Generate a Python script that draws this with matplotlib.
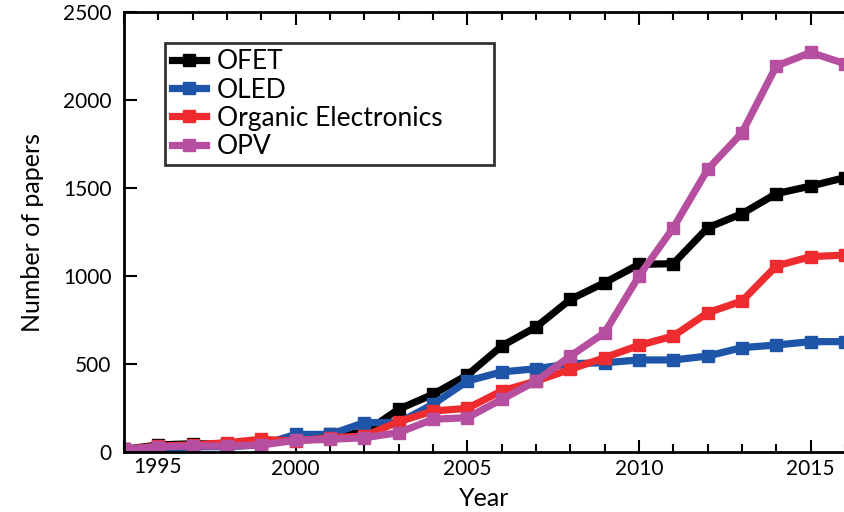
import numpy as np
import matplotlib.pyplot as plt
import matplotlib.transforms as mtransforms
from matplotlib.ticker import MultipleLocator, FuncFormatter

plt.rcParams['font.family'] = ['Lato', 'DejaVu Sans']

# Publications per year
years = np.arange(1995, 2017)
ofet = [15, 40, 47, 45, 53, 75, 100, 110, 243, 328, 437, 602, 710, 867, 962, 1066,
        1070, 1274, 1354, 1468, 1511, 1559]
oled = [0, 5, 30, 30, 40, 100, 100, 167, 167, 271, 403, 455, 473, 502, 507, 523,
        523, 545, 593, 608, 627, 627]
organic = [15, 34, 40, 53, 72, 62, 81, 91, 172, 233, 248, 347, 403, 470, 536, 606,
           659, 791, 858, 1057, 1110, 1119]
opv = [15, 30, 34, 34, 40, 66, 72, 81, 110, 186, 195, 299, 403, 545, 678, 1000,
       1274, 1606, 1814, 2193, 2270, 2206]

labels = ['OFET', 'OLED', 'Organic Electronics', 'OPV']
colors = ['#000000', '#1f55a9', '#ee2b2e', '#b64f9f']

fig = plt.figure(figsize=(8.45, 5.12), dpi=100)
ax = fig.add_axes([124 / 845, 1 - 452 / 512, 1 - 124 / 845, (452 - 12) / 512])

for series, lab, col in zip([ofet, oled, organic, opv], labels, colors):
    ax.plot(years, series, color=col, lw=5.2, marker='s', markersize=8, label=lab)

ax.set_xlim(years[0], years[-1])
ax.set_ylim(0, 2500)
ax.xaxis.set_major_locator(MultipleLocator(5))
ax.xaxis.set_minor_locator(MultipleLocator(1))
ax.yaxis.set_major_locator(MultipleLocator(500))

# first year label is drawn separately, nudged off the corner
first = years[0]
ax.xaxis.set_major_formatter(FuncFormatter(lambda v, p: '' if v == first else f'{v:.0f}'))

ax.tick_params(axis='both', which='both', direction='in', top=True, labelsize=15,
               width=1.5)
ax.tick_params(axis='x', which='major', length=9, pad=5)
ax.tick_params(axis='x', which='minor', length=6)
ax.tick_params(axis='y', which='major', length=9, pad=9)
ax.spines['right'].set_visible(False)
for s in ['left', 'top', 'bottom']:
    ax.spines[s].set_linewidth(2)

off = mtransforms.ScaledTranslation(34 / 100, -5 / 100, fig.dpi_scale_trans)
ax.text(first, 0, str(first), fontsize=15, ha='center', va='top',
        transform=ax.get_xaxis_transform() + off)

ax.set_xlabel('Year', fontsize=18, labelpad=6)
ax.set_ylabel('Number of papers', fontsize=18, labelpad=14)

leg = ax.legend(loc='upper left', bbox_to_anchor=(0.057, 0.652, 0.456, 0.278),
                mode='expand', fontsize=19, frameon=True, fancybox=False,
                edgecolor='black', handlelength=1.3, handletextpad=0.4,
                labelspacing=0.12, borderpad=0.25, borderaxespad=0)
leg.get_frame().set_linewidth(2)

fig.savefig('out.png', dpi=100)
